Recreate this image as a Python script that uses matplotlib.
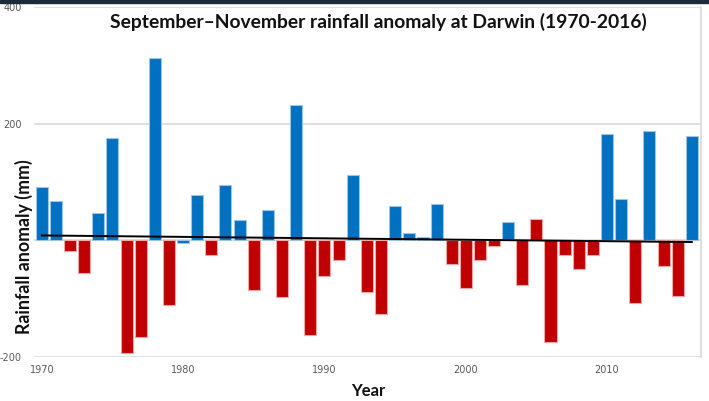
import numpy as np
import matplotlib.pyplot as plt
from matplotlib.patches import Rectangle

# 데이터
years = np.arange(1970, 2017)
anomaly = [91, 67, -18, -56, 47, 175, -193, -166, 312, -110,
           -5, 77, -26, 95, 35, -85, 52, -98, 232, -162,
           -62, -33, 112, -89, -126, 58, 12, 5, 62, -40,
           -81, -33, -10, 31, -76, 37, -174, -25, -49, -26,
           182, 70, -108, 188, -44, -95, 178]
# 그림에서 부호와 반대 색으로 그려진 해
flipped_years = [1980, 2005]

x_ticks = [1970, 1980, 1990, 2000, 2010]

blue = '#0070C0'
red = '#C00000'

anomaly = np.array(anomaly)
is_wet = anomaly > 0
is_wet = np.where(np.isin(years, flipped_years), ~is_wet, is_wet)
colors = np.where(is_wet, blue, red)
edges = np.where(is_wet, '#9DC3E6', '#F2A7A7')

fig = plt.figure(figsize=(7.09, 4.01), dpi=100)
ax = fig.add_axes([34 / 709, 1 - 357 / 401, 667 / 709, 350 / 401])

ax.bar(years, anomaly, width=0.85, color=colors, edgecolor=edges, linewidth=0.8, zorder=2)

# 선형 추세선
coef = np.polyfit(years, anomaly, 1)
ax.plot(years, np.polyval(coef, years), color='black', linewidth=1.4, zorder=3)

ax.set_xlim(1969.45, 2016.65)
ax.set_ylim(-200, 400)
ax.set_yticks([-200, 0, 200, 400])
ax.set_yticklabels(['-200', '', '200', '400'])
ax.set_xticks(x_ticks)
ax.tick_params(length=0, labelsize=7, labelcolor='#595959', pad=9)
ax.tick_params(axis='x', pad=6)
ax.grid(axis='y', color='#D9D9D9', linewidth=1.2, zorder=0)
ax.set_axisbelow(True)

for side in ['left', 'top', 'bottom']:
    ax.spines[side].set_visible(False)
ax.spines['right'].set_color('#D9D9D9')
ax.spines['right'].set_linewidth(1.2)

ax.set_ylabel('Rainfall anomaly (mm)', fontsize=12.8, fontweight='bold',
              family='Lato', color='#111111')
ax.yaxis.set_label_coords(-1 / 667, (357 - 247) / 350)
fig.text(368 / 709, 1 - 391 / 401, 'Year', fontsize=12, fontweight='bold',
         family='Lato', color='#111111', ha='center', va='center')

fig.text(378 / 709, 1 - 22 / 401,
         'September\u2013November rainfall anomaly at Darwin (1970-2016)',
         fontsize=13.9, fontweight='bold', family='Lato', color='#111111',
         ha='center', va='center')

# 상단 어두운 띠
fig.patches.append(Rectangle((0, 1 - 2.5 / 401), 1, 2.5 / 401, transform=fig.transFigure,
                             color='#1C2B3A', zorder=5))

fig.savefig('out.png', dpi=100)
